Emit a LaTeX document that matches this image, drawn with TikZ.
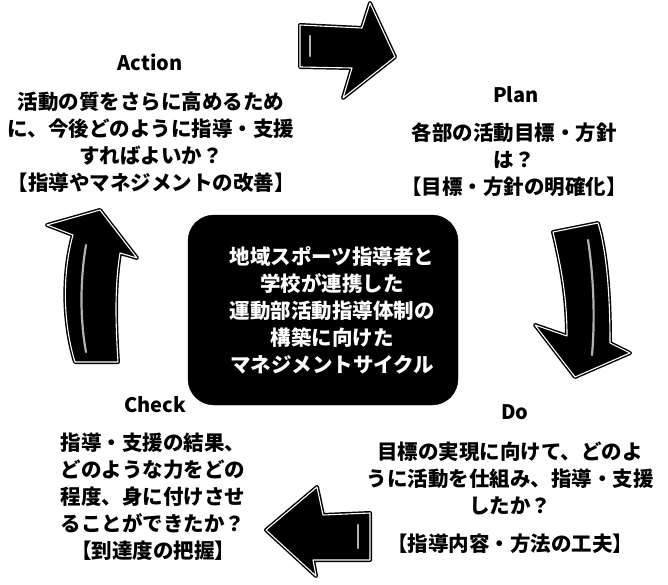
\documentclass[tikz,border=0pt]{standalone}
\usepackage{fontspec}
\setmainfont{Noto Sans CJK JP}
\usetikzlibrary{positioning}
\tikzset{
  pdcafont/.style={font=\bfseries\fontsize{20.5}{27}\selectfont},
  phasetitle/.style={font=\bfseries\fontsize{20}{24}\selectfont, inner sep=0pt},
  phasebody/.style={pdcafont, align=center, inner sep=0pt},
  bigarrow/.style={draw=black, line width=4pt, fill=black, line join=round},
  arrowrim/.style={draw=white, line width=1.1pt, line join=round},
  arrowshine/.style={draw=gray!60, line width=2.2pt, line cap=round},
}
\begin{document}
\begin{tikzpicture}[x=1pt, y=-1pt]
\useasboundingbox (0,0) rectangle (668,585);

% ---------- centre box ----------
\node[fill=black, draw=black, rounded corners=26pt, minimum width=270pt,
      minimum height=190pt, inner sep=0pt] (core) at (323,310) {};
\node[phasebody, text=white] (coretext) at (332,310)
  {地域スポーツ指導者と\\学校が連携した\\運動部活動指導体制の\\構築に向けた\\マネジメントサイクル};

% ---------- Action ----------
\node[phasetitle] (acttitle) at (150,62) {Action};
\node[phasebody] (actbody) at (151,142)
  {活動の質をさらに高めるため\\に、今後どのように指導・支援\\すればよいか？\\【指導やマネジメントの改善】};

% ---------- Plan ----------
\node[phasetitle] (plantitle) at (516,95) {Plan};
\node[phasebody] (planbody) at (514,160)
  {各部の活動目標・方針\\は？\\【目標・方針の明確化】};

% ---------- Do ----------
\node[phasetitle] (dotitle) at (515,412) {Do};
\node[phasebody] (dobody) at (510,498)
  {目標の実現に向けて、どのよ\\うに活動を仕組み、指導・支援\\したか？\\[11pt]【指導内容・方法の工夫】};

% ---------- Check ----------
\node[phasetitle] (chktitle) at (155,405) {Check};
\node[phasebody] (chkbody) at (153,497)
  {指導・支援の結果、\\どのような力をどの\\程度、身に付けさせ\\ることができたか？\\【到達度の把握】};

% ---------- arrows ----------
% top: Action -> Plan
\path[bigarrow] (300,25) -- (362,28) -- (370,3) -- (395,57) -- (343,98)
   -- (352,68) -- (300,67) -- cycle;
\path[arrowrim] (300,25) -- (362,28) -- (370,3) -- (395,57) -- (343,98)
   -- (352,68) -- (300,67) -- cycle;
\draw[arrowshine] (310,36) -- (310,56);

% right: Plan -> Do
\path[bigarrow] (553,232) .. controls (562,270) and (567,300) .. (567,336)
   -- (535,325) -- (575,377) -- (630,353) -- (610,343)
   .. controls (610,290) and (606,250) .. (598,223) -- cycle;
\path[arrowrim] (553,232) .. controls (562,270) and (567,300) .. (567,336)
   -- (535,325) -- (575,377) -- (630,353) -- (610,343)
   .. controls (610,290) and (606,250) .. (598,223) -- cycle;
\draw[arrowshine] (588,240) .. controls (594,280) and (595,320) .. (592,355);

% bottom: Do -> Check
\path[bigarrow] (370,513) -- (323,515) -- (317,487) -- (266,530) -- (316,576)
   -- (313,560) -- (370,560) -- cycle;
\path[arrowrim] (370,513) -- (323,515) -- (317,487) -- (266,530) -- (316,576)
   -- (313,560) -- (370,560) -- cycle;
\draw[arrowshine] (358,525) -- (358,548);

% left: Check -> Action
\path[bigarrow] (73,235) -- (47,225) -- (100,210) -- (137,258) -- (120,253)
   .. controls (114,290) and (116,330) .. (118,362) -- (75,362)
   .. controls (62,320) and (63,270) .. (73,235) -- cycle;
\path[arrowrim] (73,235) -- (47,225) -- (100,210) -- (137,258) -- (120,253)
   .. controls (114,290) and (116,330) .. (118,362) -- (75,362)
   .. controls (62,320) and (63,270) .. (73,235) -- cycle;
\draw[arrowshine] (86,245) .. controls (80,280) and (80,320) .. (86,352);
\end{tikzpicture}
\end{document}
